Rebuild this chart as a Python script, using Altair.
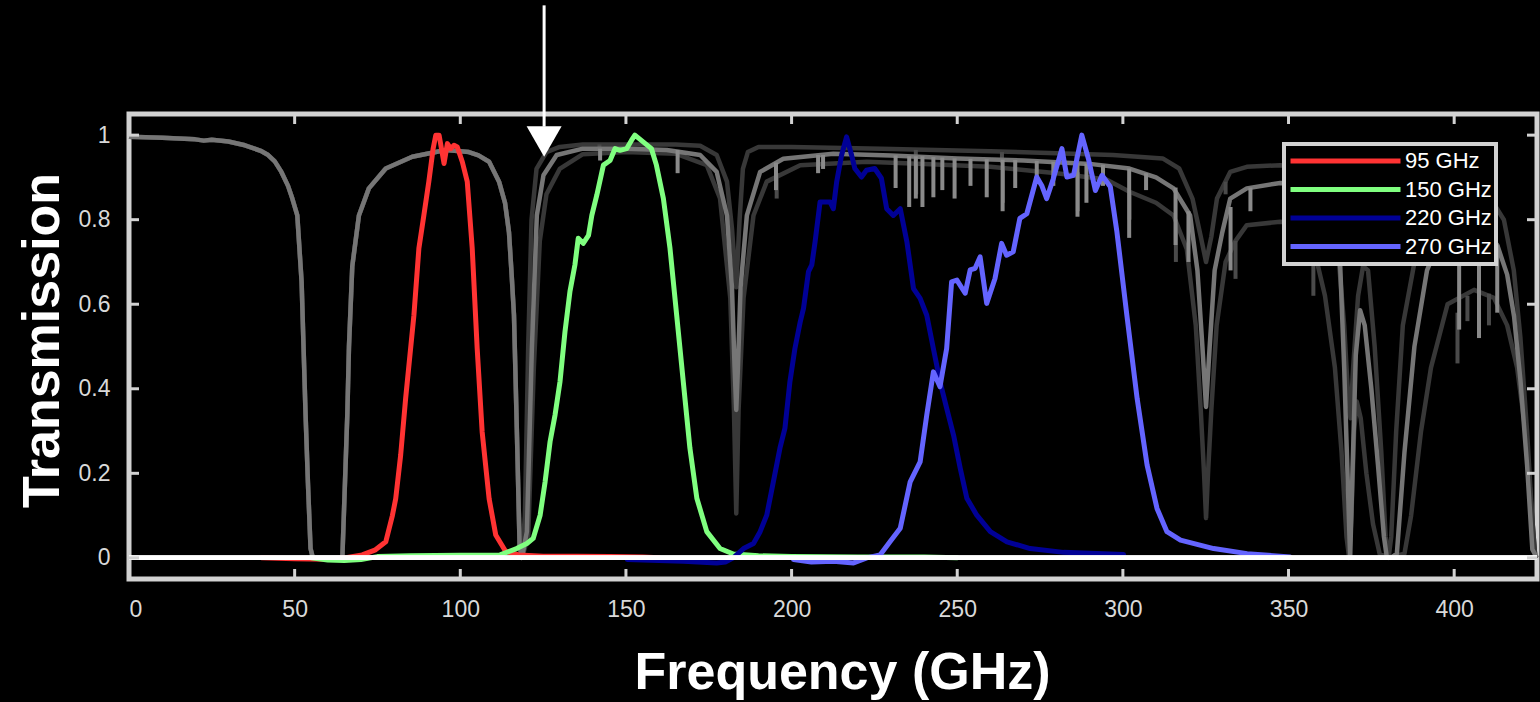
import altair as alt
import pandas as pd

# ---------------- tick values ----------------
x_ticks = [0, 50, 100, 150, 200, 250, 300, 350, 400]
y_ticks = [0, 0.2, 0.4, 0.6, 0.8, 1]

# ---------------- atmospheric transmission (3 curves) ----------------
# part shared by all three curves (0 - 118.6 GHz)
com_f = [0, 10, 20, 22.6, 25, 30, 35, 40, 42, 44, 46, 48, 49.3, 50.8, 52.1, 52.7, 53.3, 54, 54.8, 55.5,
         60, 64.4, 65.2, 65.9, 66.4, 67.4, 69.4, 72.4, 77.5, 85.5, 95.6, 102.6, 105.5, 108.7, 111.7,
         113.5, 114.7, 115.5, 116.2, 116.7, 117.2, 117.9, 118.6]
com_v = [0.996, 0.994, 0.99, 0.987, 0.989, 0.985, 0.976, 0.962, 0.953, 0.938, 0.913, 0.88, 0.85, 0.81,
         0.653, 0.495, 0.338, 0.18, 0.022, 0.0,
         0.0, 0.0, 0.18, 0.34, 0.5, 0.69, 0.81, 0.874, 0.921, 0.949, 0.965, 0.96, 0.952, 0.937, 0.89,
         0.84, 0.77, 0.67, 0.575, 0.42, 0.26, 0.03, 0.0]

dry_f = [119.5, 120.5, 121.5, 123, 126, 130, 137, 150, 165, 172.4, 177.4, 180.5, 182, 183.3, 184.3,
         185.3, 186.8, 190, 200, 227, 260, 297, 312, 317, 321, 323.5, 325.1, 326.7, 328.4, 332.4,
         337.4, 347.5, 352, 358, 362, 365, 366.8, 368, 368.7, 369.5, 371, 372.5, 374, 376, 378,
         379.3, 380.2, 381, 382.5, 384.5, 387.8, 392, 398, 405, 411, 415, 418, 420, 422, 423.5,
         424.5, 425]
dry_v = [0.1, 0.5, 0.8, 0.92, 0.96, 0.972, 0.978, 0.978, 0.978, 0.975, 0.953, 0.89, 0.78, 0.64, 0.8,
         0.92, 0.96, 0.972, 0.972, 0.968, 0.962, 0.953, 0.945, 0.921, 0.85, 0.76, 0.7, 0.76, 0.85, 0.913,
         0.925, 0.929, 0.925, 0.9, 0.85, 0.72, 0.55, 0.38, 0.33, 0.45, 0.62, 0.69, 0.68, 0.5, 0.25,
         0.05, 0.0, 0.05, 0.3, 0.55, 0.69, 0.8, 0.86, 0.87, 0.85, 0.8, 0.68, 0.52, 0.3, 0.1,
         0.0, 0.0]

med_f = [120.1, 121.6, 123.1, 125.1, 129.1, 137, 150, 162.3, 172.4, 177.4, 180.5, 182, 182.8, 183.3,
         183.8, 184.6, 186.5, 190.5, 197.5, 212.6, 230, 250, 270, 290, 302, 310, 315.3, 320.3, 322.5,
         324, 325.1, 326.2, 327.7, 330, 332.4, 337.4, 347.5, 352, 356, 360, 363, 365.6, 366.8, 367.8,
         368.6, 369.3, 370.3, 371.6, 373, 375, 377, 378.8, 379.7, 381, 382.7, 385, 388, 391.8, 396,
         402, 408, 413, 416, 418.1, 420, 422, 423.6, 425]
med_v = [0.062, 0.495, 0.81, 0.905, 0.953, 0.968, 0.968, 0.965, 0.953, 0.913, 0.81, 0.64, 0.45, 0.35,
         0.45, 0.64, 0.81, 0.913, 0.944, 0.956, 0.952, 0.945, 0.94, 0.932, 0.921, 0.9, 0.874, 0.81, 0.68,
         0.5, 0.357, 0.5, 0.68, 0.77, 0.85, 0.874, 0.887, 0.885, 0.87, 0.85, 0.79, 0.69, 0.45, 0.2,
         0.0, 0.2, 0.48, 0.586, 0.55, 0.4, 0.22, 0.05, 0.0, 0.0, 0.01, 0.25, 0.5, 0.68, 0.76,
         0.8, 0.79, 0.74, 0.67, 0.57, 0.42, 0.22, 0.02, 0.0]

wet_f = [120.5, 122.2, 124, 126, 130, 137, 150, 165, 174.4, 178.4, 181.5, 182.6, 183.3, 184, 185.5,
         188.5, 192.5, 202.6, 222.7, 240, 260, 280, 295, 302, 310, 315.3, 319.3, 322, 323.5, 324.5,
         325.1, 325.7, 326.7, 328.3, 331, 334, 337.4, 347.5, 352, 355, 358, 361, 364, 366, 367.5,
         368.3, 369, 369.8, 370.6, 371.8, 373.5, 375.5, 377.5, 380, 385, 387, 390, 393, 398, 406,
         412, 416, 419, 421.5, 423.5, 424.5, 425]
wet_v = [0.05, 0.45, 0.75, 0.86, 0.92, 0.955, 0.96, 0.956, 0.929, 0.85, 0.614, 0.35, 0.105, 0.35, 0.614,
         0.81, 0.89, 0.929, 0.937, 0.932, 0.925, 0.91, 0.895, 0.866, 0.84, 0.81, 0.73, 0.55, 0.35, 0.2,
         0.094, 0.2, 0.35, 0.55, 0.7, 0.75, 0.787, 0.795, 0.79, 0.77, 0.72, 0.62, 0.45, 0.25, 0.05,
         0.0, 0.1, 0.3, 0.37, 0.33, 0.2, 0.08, 0.01, 0.0, 0.01, 0.1, 0.3, 0.45, 0.6, 0.634,
         0.615, 0.55, 0.45, 0.3, 0.1, 0.0, 0.0]

# narrow absorption lines (frequency, top, bottom)
med_spk_f = [142.2, 165.6, 195.3, 208, 209.5, 231.4, 235.5, 237.5, 239.5, 242.8, 245.5, 249.2, 254, 258.9,
             263.7, 267.5, 274, 279, 286.3, 289, 294, 301.9, 307, 315.9, 319.8, 332.5, 338.5, 401.5,
             407.5, 413]
med_spk_top = [0.968, 0.965, 0.935, 0.953, 0.953, 0.952, 0.95, 0.95, 0.95, 0.948, 0.947, 0.945, 0.944, 0.943,
               0.942, 0.941, 0.939, 0.937, 0.934, 0.933, 0.93, 0.921, 0.91, 0.876, 0.82, 0.83, 0.876, 0.8,
               0.79, 0.74]
med_spk_bot = [0.94, 0.91, 0.87, 0.91, 0.92, 0.875, 0.83, 0.85, 0.83, 0.853, 0.87, 0.85, 0.88, 0.853,
               0.82, 0.875, 0.9, 0.88, 0.807, 0.84, 0.88, 0.757, 0.87, 0.74, 0.7, 0.68, 0.82, 0.54,
               0.52, 0.58]
dark_spk_f = [142, 237.5, 263.5, 286, 331, 195.5, 237.6, 263.8, 286.4, 302, 316, 334, 357.5, 401, 404, 410.5]
dark_spk_top = [0.978, 0.965, 0.96, 0.955, 0.89, 0.91, 0.932, 0.925, 0.912, 0.866, 0.8, 0.75, 0.74, 0.58, 0.62, 0.625]
dark_spk_bot = [0.965, 0.94, 0.935, 0.93, 0.86, 0.85, 0.86, 0.84, 0.82, 0.8, 0.7, 0.66, 0.62, 0.46, 0.56, 0.55]

# ---------------- detector bandpasses ----------------
band_names = ["95 GHz", "150 GHz", "220 GHz", "270 GHz"]
band_colors = ["#ff3333", "#80ff80", "#000096", "#6464ff"]

red_f = [40, 50, 60, 65, 70.4, 74.4, 77.5, 79.5, 80.5, 82, 83.5, 85, 86, 87.5, 89, 90.5, 91.8, 92.6, 93.6,
         95.1, 96.1, 97.1, 98.1, 99.1, 100.6, 102.1, 103.6, 105.1, 106.6, 108.7, 110.7, 113.7, 117.7,
         125, 135, 145, 155, 160]
red_v = [0.0, -0.002, -0.003, 0.0, 0.007, 0.019, 0.038, 0.1, 0.14, 0.243, 0.377, 0.495, 0.574, 0.732,
         0.81, 0.89, 0.968, 1.0, 1.0, 0.933, 0.98, 0.968, 0.976, 0.972, 0.937, 0.89, 0.732, 0.495, 0.298,
         0.14, 0.054, 0.015, 0.007, 0.004, 0.004, 0.003, 0.002, 0.0]

green_f = [55, 60, 65, 70, 75, 85, 100, 110, 112, 117, 120.1, 122, 124.1, 125.6, 127.1, 128.6, 130.1,
           131.6, 133.1, 134.6, 135.6, 137.1, 138.7, 139.7, 141.2, 143.2, 145.2, 146.7, 148.2, 150.2,
           151.7, 152.7, 155.2, 157.7, 159.2, 161.3, 163.3, 165.3, 167.3, 169.3, 171.4, 174.4, 178.4,
           182.4, 190, 200, 220, 240, 250]
green_v = [0.0, -0.005, -0.006, -0.004, 0.003, 0.005, 0.006, 0.006, 0.007, 0.022, 0.034, 0.046, 0.101,
           0.18, 0.275, 0.338, 0.417, 0.535, 0.63, 0.693, 0.756, 0.744, 0.763, 0.81, 0.858, 0.929, 0.94,
           0.968, 0.964, 0.968, 0.988, 1.0, 0.984, 0.968, 0.929, 0.85, 0.732, 0.575, 0.417, 0.26, 0.141,
           0.062, 0.022, 0.009, 0.005, 0.003, 0.002, 0.002, 0.0]

db_f = [150.4, 160, 167.4, 177.4, 180, 182.4, 185.5, 188.5, 190.5, 192.5, 194.5, 196.5, 198, 199.5, 201,
        202.6, 203.6, 205.1, 206.1, 207.1, 208.6, 211.6, 212.6, 213.6, 215.1, 216.6, 218.1, 219.1, 221.1,
        222.6, 225.1, 227.1, 228.7, 230.7, 232.8, 234.8, 236.8, 238.8, 240.8, 242.8, 244.8, 246.8, 248.9,
        250.9, 252.9, 255.9, 260, 265, 272, 282.1, 300.2]
db_v = [-0.004, -0.006, -0.008, -0.012, -0.01, 0.0, 0.022, 0.034, 0.062, 0.101, 0.18, 0.26, 0.307, 0.417,
        0.495, 0.558, 0.59, 0.677, 0.693, 0.748, 0.842, 0.842, 0.826, 0.889, 0.953, 0.996, 0.953, 0.921,
        0.901, 0.917, 0.921, 0.898, 0.826, 0.81, 0.826, 0.748, 0.637, 0.614, 0.574, 0.495, 0.417, 0.354,
        0.29, 0.212, 0.141, 0.101, 0.062, 0.038, 0.022, 0.013, 0.008]

lb_f = [200.6, 206, 212.6, 218.7, 222.7, 226.7, 229.7, 232.8, 235.8, 238.8, 240.8, 242.8, 244.8, 246.8,
        248.3, 249.9, 252.4, 253.9, 255.4, 256.9, 258.9, 261.4, 263.4, 264.9, 266.9, 268.9, 271, 274,
        275.5, 277, 279, 281.6, 283.1, 285.1, 287.6, 289.6, 291.7, 293.7, 296.2, 298.2, 301.2, 304.3,
        307.3, 310.3, 313.3, 317.4, 327.4, 337.5, 350.5]
lb_v = [-0.004, -0.01, -0.008, -0.012, 0.0, 0.007, 0.038, 0.07, 0.18, 0.227, 0.338, 0.44, 0.405, 0.495,
        0.653, 0.657, 0.626, 0.681, 0.685, 0.712, 0.602, 0.661, 0.744, 0.716, 0.724, 0.803, 0.814, 0.901,
        0.881, 0.85, 0.897, 0.968, 0.901, 0.905, 1.0, 0.944, 0.869, 0.905, 0.878, 0.771, 0.574, 0.377,
        0.22, 0.117, 0.062, 0.042, 0.022, 0.01, 0.002]

# ---------------- annotation arrow ----------------
arrow_f = [125.3]
arrow_top = [1.307]
arrow_bot = [1.02]
arrow_head_v = [0.985]

# ---------------- build tables ----------------
def frame(fs, vs, name):
    d = pd.DataFrame({"f": fs, "v": vs})
    d["s"] = name
    return d

dark_df = pd.concat([frame(com_f + dry_f, com_v + dry_v, "dry"),
                     frame(com_f + wet_f, com_v + wet_v, "wet")])
med_df = frame(com_f + med_f, com_v + med_v, "median")
med_spk = pd.DataFrame({"f": med_spk_f, "top": med_spk_top, "bot": med_spk_bot})
dark_spk = pd.DataFrame({"f": dark_spk_f, "top": dark_spk_top, "bot": dark_spk_bot})
band_df = pd.concat([frame(red_f, red_v, band_names[0]), frame(green_f, green_v, band_names[1]),
                     frame(db_f, db_v, band_names[2]), frame(lb_f, lb_v, band_names[3])])
arrow_df = pd.DataFrame({"f": arrow_f, "top": arrow_top, "bot": arrow_bot, "v": arrow_head_v})
xt_df = pd.DataFrame({"t": x_ticks})
yt_df = pd.DataFrame({"t": y_ticks})

W, H = 1408, 465
FRAME = "#d2d2d2"
FONT = "Liberation Sans"

x_scale = alt.Scale(domain=[0, 425], nice=False, zero=False)
y_scale = alt.Scale(domain=[-0.05, 1.05], nice=False, zero=False)
x_axis = alt.Axis(values=x_ticks, labelPadding=19, title="Frequency (GHz)", titleX=713, titleY=109,
                  titleBaseline="alphabetic", titleAlign="center")
y_axis = alt.Axis(values=y_ticks, format="~g", labelPadding=19, title="Transmission", titleAngle=270,
                  titleX=-71, titleY=226, titleBaseline="alphabetic", titleAlign="center")

def X(field):
    return alt.X(field, type="quantitative", scale=x_scale, axis=x_axis)

def Y(field):
    return alt.Y(field, type="quantitative", scale=y_scale, axis=y_axis)

dark_lines = alt.Chart(dark_df).mark_line(color="#383838", strokeWidth=4.5, strokeJoin="round").encode(
    x=X("f"), y=Y("v"), detail="s:N")
dark_spikes = alt.Chart(dark_spk).mark_rule(color="#4a4a4a", strokeWidth=4).encode(
    x=X("f"), y=Y("top"), y2="bot")
med_line = alt.Chart(med_df).mark_line(color="#767676", strokeWidth=4.5, strokeJoin="round").encode(
    x=X("f"), y=Y("v"))
med_spikes = alt.Chart(med_spk).mark_rule(color="#8a8a8a", strokeWidth=4).encode(
    x=X("f"), y=Y("top"), y2="bot")

bands = alt.Chart(band_df).mark_line(strokeWidth=5, strokeJoin="round", strokeCap="round").encode(
    x=X("f"), y=Y("v"),
    color=alt.Color("s:N", sort=band_names,
                    scale=alt.Scale(domain=band_names, range=band_colors),
                    legend=alt.Legend(title=None, orient="none", legendX=1155, legendY=30,
                                      symbolType="stroke", symbolSize=12100, symbolStrokeWidth=5,
                                      labelFontSize=22, labelColor="white", labelFont=FONT,
                                      fillColor="black", strokeColor=FRAME, padding=4,
                                      clipHeight=26, rowPadding=2.5, labelOffset=2, zindex=1)))

zero_line = alt.Chart(xt_df).mark_rule(color="white", strokeWidth=4).encode(y=alt.Y(datum=0, scale=y_scale, axis=y_axis))

arrow_shaft = alt.Chart(arrow_df).mark_rule(color="white", strokeWidth=3).encode(
    x=X("f"), y=Y("top"), y2="bot")
arrow_head = alt.Chart(arrow_df).mark_point(shape="triangle-down", filled=True, color="white",
                                            size=1225, opacity=1).encode(x=X("f"), y=Y("v"))

tick_b = alt.Chart(xt_df).mark_rule(color=FRAME, strokeWidth=3).encode(
    x=X("t"), y=alt.value(H), y2=alt.value(H - 10))
tick_t = alt.Chart(xt_df).mark_rule(color=FRAME, strokeWidth=3).encode(
    x=X("t"), y=alt.value(0), y2=alt.value(10))
tick_l = alt.Chart(yt_df).mark_rule(color=FRAME, strokeWidth=3).encode(
    y=Y("t"), x=alt.value(0), x2=alt.value(10))
tick_r = alt.Chart(yt_df).mark_rule(color=FRAME, strokeWidth=3).encode(
    y=Y("t"), x=alt.value(W), x2=alt.value(W - 10))

chart = alt.layer(
    dark_lines, dark_spikes, med_line, med_spikes, bands, zero_line,
    tick_b, tick_t, tick_l, tick_r, arrow_shaft, arrow_head
).properties(
    width=W, height=H, background="black",
    padding={"left": 129, "top": 114, "right": 3, "bottom": 123},
    autosize=alt.AutoSizeParams(type="none"),
).configure_view(
    stroke=FRAME, strokeWidth=5, fill="black"
).configure_axis(
    domain=False, ticks=False, grid=False, labelColor="#d9d9d9", labelFont=FONT, labelFontSize=23,
    titleColor="white", titleFont=FONT, titleFontSize=52, titleFontWeight="bold"
).configure_legend(strokeWidth=4)

chart.save("out.html", embed_options={"renderer": "svg", "actions": False})
